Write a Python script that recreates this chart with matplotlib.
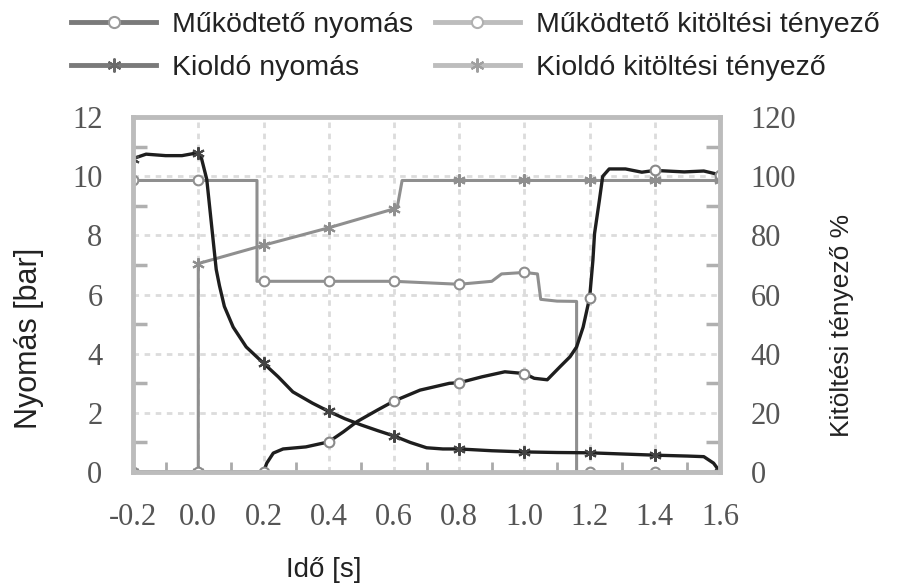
import numpy as np
import matplotlib
matplotlib.use("Agg")
import matplotlib.pyplot as plt
from matplotlib.lines import Line2D

# Működtető nyomás [bar] (left axis)
t_mp = [-0.2, 0.0, 0.2, 0.21, 0.23, 0.26, 0.33, 0.4, 0.445, 0.486, 0.55, 0.6,
        0.68, 0.77, 0.8, 0.87, 0.94, 1.0, 1.03, 1.07, 1.11, 1.14, 1.16, 1.18,
        1.2, 1.21, 1.215, 1.23, 1.24, 1.26, 1.31, 1.36, 1.4, 1.49, 1.55, 1.6]
p_mp = [0, 0, 0, 0.3, 0.64, 0.78, 0.85, 1.02, 1.36, 1.7, 2.1, 2.4,
        2.77, 3.0, 3.02, 3.22, 3.39, 3.33, 3.17, 3.12, 3.57, 3.9, 4.23, 4.9,
        5.9, 7.16, 8.06, 9.2, 10.0, 10.25, 10.25, 10.14, 10.2, 10.15, 10.18, 10.05]

# Kioldó nyomás [bar] (left axis)
t_kp = [-0.2, -0.16, -0.1, -0.05, 0.0, 0.01, 0.026, 0.045, 0.055, 0.065, 0.08,
        0.107, 0.147, 0.2, 0.245, 0.29, 0.35, 0.4, 0.45, 0.5, 0.55, 0.6, 0.65,
        0.7, 0.75, 0.8, 0.9, 1.0, 1.1, 1.2, 1.3, 1.4, 1.5, 1.55, 1.58, 1.6]
p_kp = [10.6, 10.75, 10.7, 10.7, 10.8, 10.6, 9.9, 7.9, 6.85, 6.3, 5.6,
        4.9, 4.23, 3.68, 3.22, 2.71, 2.33, 2.05, 1.8, 1.59, 1.4, 1.22, 1.0,
        0.82, 0.78, 0.78, 0.72, 0.68, 0.66, 0.65, 0.61, 0.57, 0.54, 0.52, 0.3, 0.0]

# Működtető kitöltési tényező [%] (right axis)
t_mk = [-0.2, 0.0, 0.18, 0.18, 0.2, 0.4, 0.6, 0.8, 0.9, 0.93, 1.0, 1.04,
        1.05, 1.1, 1.16, 1.16, 1.2, 1.4, 1.6]
d_mk = [98.6, 98.6, 98.6, 64.5, 64.5, 64.5, 64.5, 63.5, 64.5, 67, 67.5, 67,
        58.4, 57.8, 57.7, 0, 0, 0, 0]

# Kioldó kitöltési tényező [%] (right axis)
t_kk = [-0.2, 0.0, 0.0, 0.2, 0.4, 0.6, 0.61, 0.625, 0.8, 1.0, 1.2, 1.4, 1.6]
d_kk = [0, 0, 70.5, 76.7, 82.6, 89.0, 89.5, 98.6, 98.6, 98.6, 98.6, 98.6, 98.6]

x_ticks = [-0.2, 0.0, 0.2, 0.4, 0.6, 0.8, 1.0, 1.2, 1.4, 1.6]
x_tick_labels = ["-0.2", "0.0", "0.2", "0.4", "0.6", "0.8", "1.0", "1.2", "1.4", "1.6"]
y_ticks = [0, 2, 4, 6, 8, 10, 12]
y2_ticks = [0, 20, 40, 60, 80, 100, 120]

labels = ["Működtető nyomás", "Kioldó nyomás",
          "Működtető kitöltési tényező", "Kioldó kitöltési tényező"]


def marks(t):
    # markers only on the 0.2 s grid
    return [i for i, v in enumerate(t) if abs(v / 0.2 - round(v / 0.2)) < 1e-6]


DARK = "#1e1e1e"
GRAY = "#8f8f8f"
asterisk = (6, 2, 0)

fig = plt.figure(figsize=(8.99, 5.86), dpi=100)
ax = fig.add_axes([0.148, 0.1945, 0.653, 0.6055])
ax2 = ax.twinx()
ax.set_zorder(ax2.get_zorder() + 1)
ax.patch.set_visible(False)

# gray duty-factor curves (right axis, background)
ax2.plot(t_mk, d_mk, color=GRAY, lw=2.2, marker="o", ms=7, mfc="white",
         mec=GRAY, mew=1.5, markevery=marks(t_mk))
ax2.plot(t_kk, d_kk, color=GRAY, lw=2.2, marker=asterisk, ms=9,
         mec=GRAY, mew=1.5, markevery=marks(t_kk))

# dark pressure curves (left axis, front)
ax.plot(t_mp, p_mp, color=DARK, lw=2.4, marker="o", ms=7, mfc="white",
        mec="#8a8a8a", mew=1.5, markevery=marks(t_mp))
ax.plot(t_kp, p_kp, color=DARK, lw=2.4, marker=asterisk, ms=9,
        mec="#444444", mew=1.5, markevery=marks(t_kp))

ax.set_xlim(-0.2, 1.6)
ax.set_ylim(0, 12)
ax2.set_ylim(0, 120)

ax.set_xticks(x_ticks)
ax.set_xticklabels(x_tick_labels)
ax.set_xticks(np.arange(-0.1, 1.6, 0.2), minor=True)
ax.set_yticks(y_ticks)
ax.set_yticks([1, 3, 5, 7, 9, 11], minor=True)
ax2.set_yticks(y2_ticks)
ax2.set_yticks([10, 30, 50, 70, 90, 110], minor=True)

for lab in ax.get_xticklabels() + ax.get_yticklabels() + ax2.get_yticklabels():
    lab.set_fontfamily("Liberation Serif")
    lab.set_fontsize(22)
    lab.set_color("#555555")

ax.tick_params(axis="x", which="major", length=0, pad=22)
ax.tick_params(axis="y", which="major", length=0, pad=22)
ax2.tick_params(axis="y", which="major", length=0, pad=22)
ax.tick_params(axis="x", which="minor", direction="in", length=7, width=2, color="#aaaaaa")
ax.tick_params(axis="y", which="minor", direction="in", length=10, width=2.5, color="#b0b0b0")
ax2.tick_params(axis="y", which="minor", direction="in", length=10, width=2.5, color="#b0b0b0")

# grid on the background axes so it stays under every curve
ax2.xaxis.set_visible(True)
ax2.tick_params(axis="x", which="both", bottom=False, top=False,
                labelbottom=False, labeltop=False)
ax2.grid(True, which="major", axis="both", color="#dcdcdc", lw=2,
         linestyle=(0, (2, 2)))
ax.grid(False)

for s in ax2.spines.values():
    s.set_visible(False)
for name, s in ax.spines.items():
    s.set_color("#bcbcbc")
    s.set_linewidth(3.5)

fig.text(29 / 899, 1 - 338 / 586, "Nyomás [bar]", rotation=90, ha="center",
         va="center", fontsize=22, color="#222222", family="Liberation Sans")
fig.text(842 / 899, 1 - 325 / 586, "Kitöltési tényező %", rotation=90, ha="center",
         va="center", fontsize=19, color="#222222", family="Liberation Sans")
fig.text(324 / 899, 1 - 570 / 586, "Idő [s]", ha="center", va="center",
         fontsize=20, color="#222222", family="Liberation Sans")

handles = [
    Line2D([], [], color="#7a7a7a", lw=3.5, marker="o", ms=8, mfc="white", mec="#9a9a9a", mew=1.5),
    Line2D([], [], color="#7a7a7a", lw=3.5, marker=asterisk, ms=10, mec="#6a6a6a", mew=1.5),
    Line2D([], [], color="#bdbdbd", lw=3.5, marker="o", ms=8, mfc="white", mec="#b0b0b0", mew=1.5),
    Line2D([], [], color="#bdbdbd", lw=3.5, marker=asterisk, ms=10, mec="#a0a0a0", mew=1.5),
]
fig.legend(handles, labels, ncol=2, loc="upper left", bbox_to_anchor=(0.079, 0.98),
           frameon=False, prop={"family": "Liberation Sans", "size": 20.5},
           handlelength=3.0, handletextpad=0.55, columnspacing=0.75,
           labelspacing=0.6, borderpad=0, borderaxespad=0, labelcolor="#222222")

fig.savefig("out.png", dpi=100)
